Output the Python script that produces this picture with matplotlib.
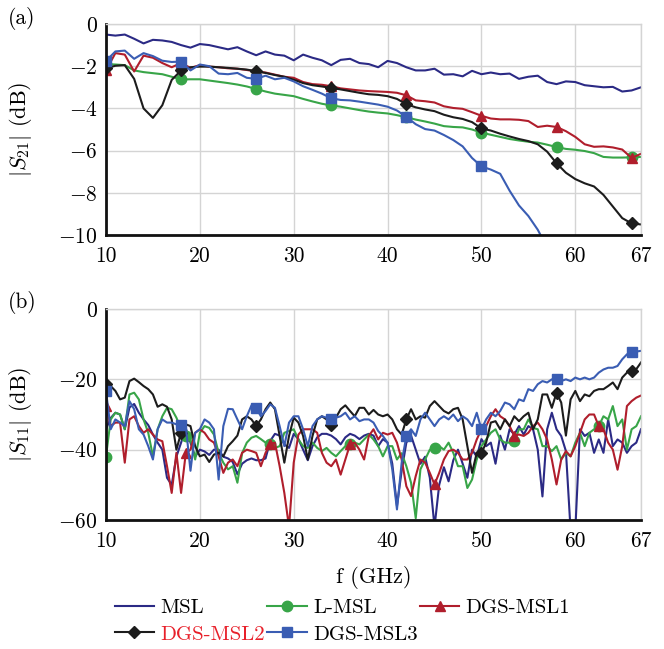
import numpy as np
import matplotlib
matplotlib.use('Agg')
import matplotlib.pyplot as plt

plt.rcParams['font.family'] = 'cmr10'
plt.rcParams['mathtext.fontset'] = 'cm'
plt.rcParams['axes.formatter.use_mathtext'] = True
plt.rcParams['font.size'] = 15

# ---------------- data ----------------
freq_a = np.arange(10, 68, 1.0)        # 10 ... 67 GHz
freq_b = np.arange(10, 67.01, 0.5)     # 10 ... 67 GHz

labels = ['MSL', 'L-MSL', 'DGS-MSL1', 'DGS-MSL2', 'DGS-MSL3']

# |S21| (dB)
s21_msl = [-0.5, -0.55, -0.5, -0.7, -0.92, -0.75, -0.78, -0.85, -1.0, -1.12,
           -0.95, -1.0, -1.1, -1.2, -1.1, -1.3, -1.48, -1.3, -1.45, -1.5,
           -1.72, -1.45, -1.6, -1.72, -1.95, -1.7, -1.65, -1.85, -1.9, -2.05,
           -1.75, -1.85, -2.05, -2.2, -2.2, -2.12, -2.4, -2.38, -2.48, -2.22,
           -2.38, -2.3, -2.38, -2.35, -2.6, -2.5, -2.45, -2.75, -2.85, -2.72,
           -2.75, -2.9, -2.95, -3.0, -2.98, -3.2, -3.15, -3.0]
s21_lmsl = [-1.9, -1.92, -1.95, -2.2, -2.28, -2.33, -2.38, -2.5, -2.63, -2.62,
            -2.62, -2.68, -2.74, -2.8, -2.87, -2.96, -3.08, -3.2, -3.3, -3.36,
            -3.42, -3.55, -3.67, -3.78, -3.86, -3.92, -4.0, -4.08, -4.15, -4.2,
            -4.24, -4.32, -4.42, -4.53, -4.62, -4.72, -4.84, -4.88, -4.9, -5.0,
            -5.15, -5.25, -5.35, -5.45, -5.52, -5.58, -5.62, -5.72, -5.83, -5.92,
            -5.96, -6.02, -6.12, -6.3, -6.33, -6.33, -6.32, -6.3]
s21_dgs1 = [-2.2, -1.38, -1.45, -2.25, -1.5, -1.6, -1.85, -2.05, -1.85, -2.08,
            -1.95, -2.02, -2.05, -2.1, -2.12, -2.18, -2.25, -2.3, -2.4, -2.5,
            -2.55, -2.75, -2.85, -2.88, -2.95, -3.05, -3.1, -3.15, -3.18, -3.2,
            -3.22, -3.26, -3.38, -3.62, -3.66, -3.72, -3.9, -3.98, -4.02, -4.18,
            -4.35, -4.48, -4.52, -4.52, -4.54, -4.6, -4.88, -4.82, -4.88, -5.08,
            -5.35, -5.7, -5.82, -5.8, -5.85, -5.95, -6.35, -6.15]
s21_dgs2 = [-2.1, -1.98, -1.95, -2.6, -4.0, -4.45, -3.85, -2.65, -2.2, -2.05,
            -2.02, -2.02, -2.05, -2.08, -2.12, -2.16, -2.24, -2.32, -2.42, -2.5,
            -2.64, -2.8, -2.9, -2.96, -3.03, -3.1, -3.18, -3.26, -3.33, -3.36,
            -3.42, -3.55, -3.8, -3.95, -4.05, -4.13, -4.3, -4.42, -4.5, -4.65,
            -4.95, -5.05, -5.2, -5.33, -5.45, -5.55, -5.7, -6.05, -6.6, -7.05,
            -7.35, -7.55, -7.7, -8.1, -8.65, -9.2, -9.45, -9.5]
s21_dgs3 = [-1.75, -1.3, -1.26, -1.65, -1.38, -1.52, -1.74, -1.8, -1.78, -2.2,
            -1.92, -2.0, -2.35, -2.38, -2.32, -2.55, -2.6, -2.45, -2.62, -2.55,
            -2.72, -2.95, -3.12, -3.3, -3.52, -3.6, -3.62, -3.68, -3.75, -3.82,
            -3.92, -4.1, -4.4, -4.75, -4.98, -5.05, -5.26, -5.5, -5.8, -6.35,
            -6.75, -6.9, -7.1, -7.9, -8.6, -9.1, -9.75, -10.6] + [np.nan] * 10

# |S11| (dB)
s11_msl = [-34.2, -31, -29.5, -30, -34.2, -28, -27, -29.5, -31.4, -33,
           -35.7, -38, -40, -48, -50, -42, -38, -34, -38, -42,
           -40, -40.5, -41.5, -40, -40, -42, -42.5, -43.5, -47, -44,
           -43, -42.5, -43, -43, -42.5, -37.5, -35.5, -36, -38.5, -39.5,
           -35.5, -37, -40, -43, -39, -36.5, -35.5, -35.5, -36, -37,
           -38.5, -36.5, -35.5, -36, -37, -36, -35.5, -36, -39, -37,
           -38, -44, -56, -46, -38, -36, -40, -44, -42, -48,
           -62, -50, -45, -49, -43, -40, -44, -48, -40, -42,
           -37, -39, -38, -44, -36, -40, -34.2, -35.7, -33.3, -35.7,
           -33.3, -34.2, -40, -53.3, -34.2, -29.5, -34.2, -36.1, -40.4, -63,
           -63, -34.2, -36.1, -35.2, -40.9, -37.1, -40.9, -31.4, -39, -37.1,
           -38, -40.9, -39, -38, -34.2]
s11_lmsl = [-42, -31.4, -29.5, -30, -34.2, -24.3, -23.8, -25.7, -31.4, -35.2,
            -41.9, -34.2, -30.5, -28.1, -28.5, -30.9, -34.2, -36.1, -37, -42.8,
            -35.2, -33.3, -33.8, -35.7, -40.9, -43.7, -45.6, -44.7, -49.4, -41,
            -38, -36.6, -36.1, -37, -38, -38.5, -39.5, -39, -35.2, -34.7,
            -34.2, -37.1, -39, -39.5, -38, -39.5, -40.4, -39.5, -40.9, -41.9,
            -40.4, -39, -38.5, -38, -38.5, -37.1, -35.7, -37.1, -39, -41.9,
            -39, -39, -42.8, -41, -44.7, -49.4, -59.5, -45.6, -42.8, -40,
            -39.5, -39, -40, -38, -40.9, -44.7, -44.7, -50.9, -48.5, -42.8,
            -39, -37.1, -35.2, -34.2, -37.1, -38, -38, -37.6, -34.2, -34.2,
            -31.4, -33.8, -34.2, -39, -39, -40.4, -39, -42.8, -40.9, -41.9,
            -38, -35.2, -39, -35.2, -34.2, -33.3, -30.5, -31.4, -27.6, -33.3,
            -31.4, -40, -34.2, -33.3, -30.5]
s11_dgs1 = [-27.6, -33.3, -32.3, -32.3, -43.7, -31.4, -30.5, -33.3, -35.2, -34.2,
            -35.7, -37.1, -37.6, -44.7, -52.3, -40.9, -52.3, -41, -40, -35.2,
            -34.2, -35.2, -37.1, -38, -41.9, -46.6, -43.7, -42.8, -44.7, -40.9,
            -40, -40.4, -40.9, -44.7, -40.9, -38.5, -38, -44.7, -52.3, -62,
            -43.7, -35.7, -34.2, -34.2, -34.2, -35.2, -40.9, -43.7, -44.7, -42.8,
            -47.1, -42.8, -38.5, -38, -40, -42.8, -36.1, -34.2, -37.1, -35.2,
            -35.7, -35.2, -38, -42.8, -50.4, -53.2, -47.5, -42.8, -43.7, -46.6,
            -49.9, -46.6, -42.8, -40.4, -40, -40.9, -42.8, -42.8, -40.9, -37.1,
            -34.2, -33.3, -30.5, -28.5, -30.5, -31.4, -33.3, -36, -35.7, -36.1,
            -35.2, -33.3, -32.3, -34.2, -37.1, -42.8, -49.9, -42.8, -40.4, -41.9,
            -39, -35.2, -31.4, -30, -30, -33.3, -34.2, -38, -40, -45.7,
            -39, -27.6, -26.2, -25.2, -24.6]
s11_dgs2 = [-21.4, -21.9, -23.3, -25.7, -25.2, -20.5, -19.8, -20.8, -21.9, -22.8,
            -24.3, -27.8, -27.1, -27.8, -31.4, -40, -35.2, -32.8, -33.3, -39,
            -41.9, -41.4, -43.5, -41.4, -40.9, -41.9, -39, -37.6, -36, -31.4,
            -30.5, -31.4, -33.3, -31.4, -28.5, -26.6, -28.5, -36.1, -43.7, -36.1,
            -30.9, -32.3, -36.1, -42.8, -36.1, -31.4, -30.5, -31.4, -33.1, -30.9,
            -28.5, -27.4, -29, -30.5, -28.1, -28.1, -30, -28.7, -30, -30.5,
            -30, -31.4, -34.2, -35.7, -31.4, -28.5, -31.4, -30.5, -30.9, -27.6,
            -26.2, -27.6, -29, -29.7, -28.5, -28.1, -31.4, -39, -46.6, -40.9,
            -41, -38, -32.3, -31.9, -34.2, -31.4, -33.3, -30.5, -31.9, -30.5,
            -29.5, -34.2, -31.4, -24.3, -24.3, -28.1, -23.8, -26.6, -36, -25.7,
            -23.3, -26.2, -24.3, -24.8, -23.3, -22.8, -22.8, -21.9, -20.9, -22.8,
            -19.5, -18.1, -17.6, -17.1, -15.2]
s11_dgs3 = [-23.3, -34.2, -31.4, -32.3, -33.3, -26.2, -28.5, -34.2, -35.7, -39,
            -42.8, -34.2, -31.4, -32.3, -32.3, -32.8, -33.1, -33.3, -46, -35.2,
            -34.2, -31.4, -32.3, -34.2, -48.5, -33.3, -28.4, -28.5, -31.4, -34.2,
            -30.5, -27.4, -28.1, -30.5, -29, -27.1, -28.1, -33.3, -39, -32.3,
            -30.5, -30.5, -34.2, -39, -33.3, -31.4, -30.5, -30.9, -31.4, -30.9,
            -30.5, -29.5, -31.4, -30.5, -31.9, -31.4, -31.4, -32.3, -34.7, -36.1,
            -38, -45.6, -57, -43.7, -36.1, -34.2, -36.1, -31.4, -29.5, -31.4,
            -33.3, -31.4, -30.5, -31.4, -30, -31.9, -30.5, -31.4, -33.3, -29.5,
            -34.2, -31.4, -29.5, -30.5, -29, -26.6, -27.1, -28.5, -25.7, -26.2,
            -22.8, -23.3, -21.4, -20.5, -20.9, -20, -20, -20.5, -20, -20.5,
            -19.5, -20, -19.5, -20, -19.5, -18.1, -17.2, -16.7, -16.7, -16.2,
            -14.3, -12.9, -12.1, -12.1, -11.9]

colors = ['#2b2a85', '#38a548', '#b01e2c', '#1c1c1c', '#3a5db3']
markers = [None, 'o', '^', 'D', 's']
msizes = [0, 7.5, 7.5, 6, 7.5]


def mark_idx(freq, step):
    pos = np.arange(10, freq[-1] + 0.01, step)
    return [int(np.argmin(np.abs(freq - p))) for p in pos]


fig = plt.figure(figsize=(6.64, 6.49), dpi=100)
ax1 = fig.add_axes([106 / 664, 1 - 235 / 649, 535 / 664, 211 / 649])
ax2 = fig.add_axes([106 / 664, 1 - 520 / 649, 535 / 664, 211 / 649])

# panel (a)
series_a = [s21_msl, s21_lmsl, s21_dgs1, s21_dgs2, s21_dgs3]
handles = []
for y, c, m, ms, lab in zip(series_a, colors, markers, msizes, labels):
    h, = ax1.plot(freq_a, y, color=c, lw=1.5, marker=m, ms=ms,
                  markevery=mark_idx(freq_a, 8.03), label=lab)
    handles.append(h)

# panel (b)
series_b = [s11_msl, s11_lmsl, s11_dgs1, s11_dgs2, s11_dgs3]
steps_b = [8.03, 8.72, 8.72, 8.03, 8.03]
for y, c, m, ms, st in zip(series_b, colors, markers, msizes, steps_b):
    ax2.plot(freq_b, y, color=c, lw=1.5, marker=m, ms=ms,
             markevery=mark_idx(freq_b, st))

xt = [10, 20, 30, 40, 50, 60, 67]
for ax, yt, ylab in [(ax1, [0, -2, -4, -6, -8, -10], r'$|S_{21}|$ (dB)'),
                     (ax2, [0, -20, -40, -60], r'$|S_{11}|$ (dB)')]:
    ax.set_xlim(10, 67)
    ax.set_ylim(min(yt), 0)
    ax.set_xticks(xt)
    ax.set_xticklabels([str(v) for v in xt])
    ax.set_yticks(yt)
    ax.set_yticklabels(['$%d$' % v for v in yt])
    ax.grid(True, color='#d4d4d4', lw=1)
    ax.set_axisbelow(True)
    ax.tick_params(length=0, labelsize=15.5)
    ax.tick_params(axis='x', pad=8)
    ax.tick_params(axis='y', pad=6)
    for s in ['top', 'right']:
        ax.spines[s].set_color('#d4d4d4')
        ax.spines[s].set_linewidth(1)
    for s in ['left', 'bottom']:
        ax.spines[s].set_color('#111111')
        ax.spines[s].set_linewidth(2)
    ax.set_ylabel(ylab, fontsize=16)
    ax.yaxis.set_label_coords(-0.135, 0.5)

ax2.set_xlabel('f (GHz)', fontsize=16, labelpad=11)

fig.text(0.012, 1 - 19 / 649, '(a)', fontsize=15.5, va='center')
fig.text(0.012, 1 - 302 / 649, '(b)', fontsize=15.5, va='center')

order = [0, 3, 1, 4, 2]
leg = fig.legend([handles[i] for i in order], [labels[i] for i in order],
                 ncol=3, loc='upper left', bbox_to_anchor=(99 / 664, 1 - 583 / 649),
                 frameon=True, facecolor='white', edgecolor='none', framealpha=1,
                 fontsize=15, handlelength=1.9, handletextpad=0.3,
                 columnspacing=0.1, labelspacing=0.38, borderpad=0.25)
for t in leg.get_texts():
    if t.get_text() == 'DGS-MSL2':
        t.set_color('#e8202a')

fig.savefig('out.png', dpi=100)
